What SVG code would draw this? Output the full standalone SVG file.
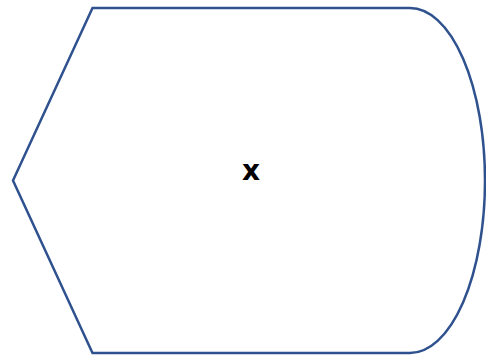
<svg xmlns="http://www.w3.org/2000/svg" width="486" height="356" viewBox="0 0 486 356">
<style>
.shape{fill:#FFFFFF;stroke:#2F528F;stroke-width:2.5;}
.lbl{font-family:"DejaVu Sans",sans-serif;font-weight:bold;font-size:28px;fill:#000000;text-anchor:middle;}
</style>
<rect width="486" height="356" fill="#FFFFFF"/>
<g id="node-display">
<path class="shape" d="M13,180.5 L92.5,8 L410,8 A75,172.5 0 0 1 410,353 L92.5,353 Z"/>
<text class="lbl" x="251" y="180">x</text>
</g>
<g id="connectors"></g>
</svg>
